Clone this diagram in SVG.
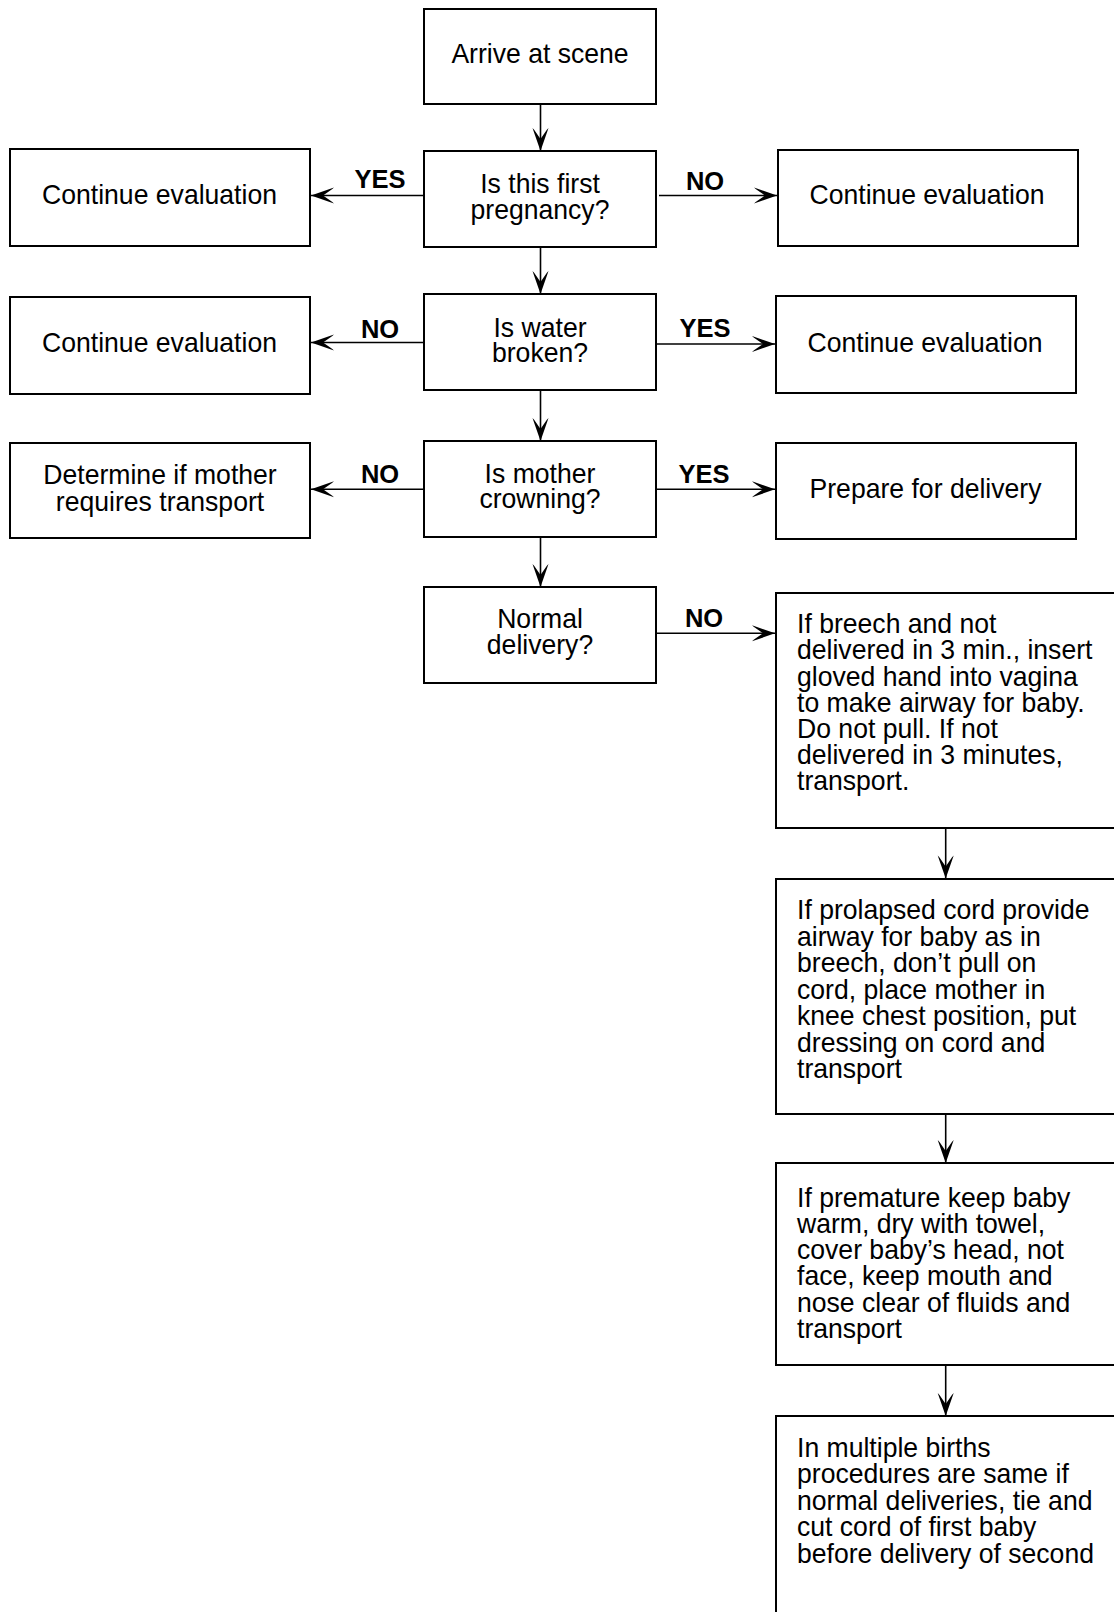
<svg xmlns="http://www.w3.org/2000/svg" width="1114" height="1612" viewBox="0 0 1114 1612">
  <style>
    .box { fill: #fff; stroke: #000; stroke-width: 2; }
    .t { font-family: "Liberation Sans", Arial, sans-serif; font-size: 28.5px; fill: #000; }
    .c { text-anchor: middle; }
    .lbl { font-family: "Liberation Sans", Arial, sans-serif; font-size: 25.5px; font-weight: bold; text-anchor: middle; fill: #000; }
    .conn line { stroke: #000; stroke-width: 1.6; marker-end: url(#ah); }
  </style>
  <defs>
    <marker id="ah" markerUnits="userSpaceOnUse" viewBox="-24 -9 25 18" refX="0" refY="0" markerWidth="25" markerHeight="18" orient="auto">
      <path d="M0,0 L-23,-8 L-21,-6.2 L-12,0 L-21,6.2 L-23,8 Z" fill="#000"/>
    </marker>
  </defs>
  <rect width="1114" height="1612" fill="#fff"/>

  <!-- connectors -->
  <g id="connectors" class="conn">
    <line x1="540.5" y1="104" x2="540.5" y2="151"/>
    <line x1="540.5" y1="247" x2="540.5" y2="294"/>
    <line x1="540.5" y1="390" x2="540.5" y2="441"/>
    <line x1="540.5" y1="537" x2="540.5" y2="587"/>
    <line x1="424" y1="195.5" x2="311" y2="195.5"/>
    <line x1="659" y1="195.5" x2="777" y2="195.5"/>
    <line x1="424" y1="342.5" x2="311" y2="342.5"/>
    <line x1="656" y1="344" x2="775" y2="344"/>
    <line x1="424" y1="489.3" x2="311" y2="489.3"/>
    <line x1="656" y1="489.3" x2="775" y2="489.3"/>
    <line x1="656" y1="633.3" x2="775" y2="633.3"/>
    <line x1="945.7" y1="828" x2="945.7" y2="878.5"/>
    <line x1="945.7" y1="1114" x2="945.7" y2="1163"/>
    <line x1="945.7" y1="1365" x2="945.7" y2="1416"/>
  </g>

  <!-- branch labels -->
  <g id="labels">
    <text class="lbl" x="380" y="188">YES</text>
    <text class="lbl" x="705" y="190">NO</text>
    <text class="lbl" x="380" y="338">NO</text>
    <text class="lbl" x="705" y="337">YES</text>
    <text class="lbl" x="380" y="483">NO</text>
    <text class="lbl" x="704" y="483">YES</text>
    <text class="lbl" x="704" y="627">NO</text>
  </g>

  <!-- centre column -->
  <g id="arrive">
    <rect class="box" x="424" y="9" width="232" height="95"/>
    <text class="t c" transform="matrix(.933 0 0 1 540 63)">Arrive at scene</text>
  </g>
  <g id="first-pregnancy">
    <rect class="box" x="424" y="151" width="232" height="96"/>
    <text class="t c" transform="matrix(.933 0 0 1 540 193)"><tspan x="0">Is this first</tspan><tspan x="0" dy="26.5">pregnancy?</tspan></text>
  </g>
  <g id="water-broken">
    <rect class="box" x="424" y="294" width="232" height="96"/>
    <text class="t c" transform="matrix(.933 0 0 1 540 336.7)"><tspan x="0">Is water</tspan><tspan x="0" dy="25.5">broken?</tspan></text>
  </g>
  <g id="crowning">
    <rect class="box" x="424" y="441" width="232" height="96"/>
    <text class="t c" transform="matrix(.933 0 0 1 540 482.7)"><tspan x="0">Is mother</tspan><tspan x="0" dy="25.7">crowning?</tspan></text>
  </g>
  <g id="normal-delivery">
    <rect class="box" x="424" y="587" width="232" height="96"/>
    <text class="t c" transform="matrix(.933 0 0 1 540 628.3)"><tspan x="0">Normal</tspan><tspan x="0" dy="25.5">delivery?</tspan></text>
  </g>

  <!-- left column -->
  <g id="left-eval-1">
    <rect class="box" x="10" y="149" width="300" height="97"/>
    <text class="t c" transform="matrix(.933 0 0 1 159.5 204.3)">Continue evaluation</text>
  </g>
  <g id="left-eval-2">
    <rect class="box" x="10" y="297" width="300" height="97"/>
    <text class="t c" transform="matrix(.933 0 0 1 159.5 351.7)">Continue evaluation</text>
  </g>
  <g id="transport-check">
    <rect class="box" x="10" y="443" width="300" height="95"/>
    <text class="t c" transform="matrix(.933 0 0 1 160 484.3)"><tspan x="0">Determine if mother</tspan><tspan x="0" dy="26.5">requires transport</tspan></text>
  </g>

  <!-- right column -->
  <g id="right-eval-1">
    <rect class="box" x="778" y="150" width="300" height="96"/>
    <text class="t c" transform="matrix(.933 0 0 1 927 204.3)">Continue evaluation</text>
  </g>
  <g id="right-eval-2">
    <rect class="box" x="776" y="296" width="300" height="97"/>
    <text class="t c" transform="matrix(.933 0 0 1 925 351.7)">Continue evaluation</text>
  </g>
  <g id="prepare">
    <rect class="box" x="776" y="443" width="300" height="96"/>
    <text class="t c" transform="matrix(.933 0 0 1 925.5 498.3)">Prepare for delivery</text>
  </g>

  <!-- complication steps -->
  <g id="breech">
    <rect class="box" x="776" y="593" width="360" height="235"/>
    <text class="t" transform="matrix(.933 0 0 1 797 633.3)"><tspan x="0">If breech and not</tspan><tspan x="0" dy="26.2">delivered in 3 min., insert</tspan><tspan x="0" dy="26.2">gloved hand into vagina</tspan><tspan x="0" dy="26.2">to make airway for baby.</tspan><tspan x="0" dy="26.2">Do not pull. If not</tspan><tspan x="0" dy="26.2">delivered in 3 minutes,</tspan><tspan x="0" dy="26.2">transport.</tspan></text>
  </g>
  <g id="prolapsed-cord">
    <rect class="box" x="776" y="879" width="360" height="235"/>
    <text class="t" transform="matrix(.933 0 0 1 797 919.3)"><tspan x="0">If prolapsed cord provide</tspan><tspan x="0" dy="26.5">airway for baby as in</tspan><tspan x="0" dy="26.5">breech, don’t pull on</tspan><tspan x="0" dy="26.5">cord, place mother in</tspan><tspan x="0" dy="26.5">knee chest position, put</tspan><tspan x="0" dy="26.5">dressing on cord and</tspan><tspan x="0" dy="26.5">transport</tspan></text>
  </g>
  <g id="premature">
    <rect class="box" x="776" y="1163" width="360" height="202"/>
    <text class="t" transform="matrix(.933 0 0 1 797 1206.5)"><tspan x="0">If premature keep baby</tspan><tspan x="0" dy="26.3">warm, dry with towel,</tspan><tspan x="0" dy="26.3">cover baby’s head, not</tspan><tspan x="0" dy="26.3">face, keep mouth and</tspan><tspan x="0" dy="26.3">nose clear of fluids and</tspan><tspan x="0" dy="26.3">transport</tspan></text>
  </g>
  <g id="multiple-births">
    <rect class="box" x="776" y="1416" width="360" height="220"/>
    <text class="t" transform="matrix(.933 0 0 1 797 1456.7)"><tspan x="0">In multiple births</tspan><tspan x="0" dy="26.5">procedures are same if</tspan><tspan x="0" dy="26.5">normal deliveries, tie and</tspan><tspan x="0" dy="26.5">cut cord of first baby</tspan><tspan x="0" dy="26.5">before delivery of second</tspan></text>
  </g>
</svg>
